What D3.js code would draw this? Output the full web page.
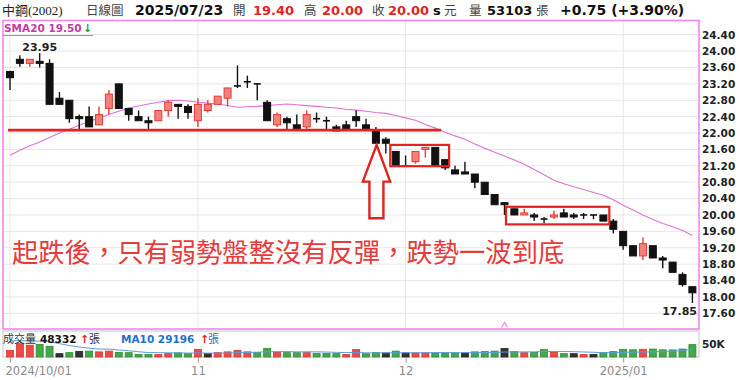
<!DOCTYPE html>
<html lang="zh-Hant"><head><meta charset="utf-8">
<script src="https://cdn.jsdelivr.net/npm/d3@7"></script>
<style>
html,body{margin:0;padding:0;background:#fff;}
svg{display:block;}
</style></head><body>
<svg id="chart" width="740" height="380"></svg>
<script>
// ---- daily bars, 中鋼 (2002) ----
const dates = [
  "2024/10/01","2024/10/04","2024/10/07","2024/10/08","2024/10/09","2024/10/11","2024/10/14","2024/10/15","2024/10/16","2024/10/17",
  "2024/10/18","2024/10/21","2024/10/22","2024/10/23","2024/10/24","2024/10/25","2024/10/28","2024/10/29","2024/10/30",
  "2024/11/01","2024/11/04","2024/11/05","2024/11/06","2024/11/07","2024/11/08","2024/11/11","2024/11/12","2024/11/13","2024/11/14",
  "2024/11/15","2024/11/18","2024/11/19","2024/11/20","2024/11/21","2024/11/22","2024/11/25","2024/11/26","2024/11/27","2024/11/28","2024/11/29",
  "2024/12/02","2024/12/03","2024/12/04","2024/12/05","2024/12/06","2024/12/09","2024/12/10","2024/12/11","2024/12/12","2024/12/13",
  "2024/12/16","2024/12/17","2024/12/18","2024/12/19","2024/12/20","2024/12/23","2024/12/24","2024/12/25","2024/12/26","2024/12/27",
  "2024/12/30","2024/12/31",
  "2025/01/02","2025/01/03","2025/01/06","2025/01/07","2025/01/08","2025/01/09","2025/01/10","2025/01/13"
];
const opens = [23.50,23.80,23.70,23.75,23.70,22.85,22.80,22.40,22.40,22.20,
  22.60,23.20,22.60,22.40,22.30,22.30,22.55,22.70,22.65,
  22.30,22.55,22.70,22.85,23.15,23.25,23.20,22.75,22.20,22.35,
  22.20,22.15,22.35,22.30,22.15,22.20,22.40,22.20,22.05,21.85,21.55,
  21.20,21.30,21.60,21.65,21.35,21.10,21.05,21.00,20.80,20.50,
  20.30,20.15,20.00,20.00,19.90,19.95,20.05,20.00,20.00,20.00,
  20.00,19.85,
  19.60,19.25,19.00,19.25,18.95,18.85,18.55,18.25];
const highs = [23.52,23.90,23.80,23.95,23.80,23.00,22.80,22.45,22.65,22.65,
  23.05,23.20,22.60,22.55,22.40,22.55,22.80,22.70,22.70,
  22.85,22.80,22.90,23.10,23.65,23.40,23.20,22.80,22.50,22.40,
  22.45,22.55,22.50,22.40,22.20,22.30,22.55,22.35,22.15,21.90,21.55,
  21.45,21.55,21.65,21.65,21.35,21.20,21.30,21.00,20.80,20.50,
  20.30,20.15,20.15,20.05,19.95,20.10,20.15,20.05,20.05,20.00,
  20.00,19.90,
  19.60,19.25,19.45,19.25,19.00,18.85,18.60,18.25];
const lows = [23.05,23.62,23.62,23.60,22.70,22.70,22.25,22.10,22.15,22.20,
  22.45,22.60,22.30,22.30,22.10,22.30,22.40,22.35,22.35,
  22.15,22.50,22.70,22.65,23.10,23.10,22.80,22.30,22.15,22.10,
  22.10,22.10,22.25,22.10,22.05,22.10,22.15,22.10,21.75,21.50,21.20,
  21.20,21.25,21.40,21.20,21.10,21.00,21.00,20.65,20.50,20.25,
  20.00,20.00,20.00,19.85,19.80,19.90,19.95,19.90,19.90,19.90,
  19.85,19.55,
  19.15,19.00,18.90,18.95,18.70,18.60,18.25,17.85];
const closes = [23.35,23.70,23.80,23.70,22.70,22.70,22.35,22.35,22.15,22.45,
  22.95,22.60,22.45,22.30,22.25,22.55,22.75,22.65,22.50,
  22.70,22.70,22.90,23.10,23.15,23.25,23.20,22.30,22.45,22.25,
  22.10,22.45,22.35,22.30,22.05,22.10,22.30,22.10,21.75,21.75,21.20,
  21.20,21.55,21.65,21.20,21.15,21.00,21.00,20.80,20.50,20.25,
  20.25,20.00,20.05,19.95,19.90,20.00,19.95,19.95,20.00,20.00,
  19.85,19.65,
  19.25,19.00,19.30,18.95,18.90,18.60,18.30,18.10];
const priorClose = 23.00;
// volume in 張
const volumes = [26000,52000,46000,49000,42000,13000,17000,22000,23000,20000,
  23000,18000,17000,10000,10000,10000,13000,16000,14000,
  30000,13000,17000,20000,26000,20000,18000,33000,18000,17000,
  17000,17000,14000,14000,13000,10000,29000,13000,17000,16000,23000,
  16000,16000,16000,16000,16000,16000,16000,20000,21000,23000,
  33000,21000,17000,18000,29000,20000,13000,13000,10000,10000,
  17000,21000,
  30000,28000,30000,31000,28000,27628,31000,48332];
// the nine sessions before 10/01, used to seed the 10-day volume average
const priorVolumes = [45000,52000,60000,68000,85000,90000,78000,70000,56000];
// 20-day simple moving average of the close
const sma20 = [21.46,21.58,21.69,21.78,21.89,22.00,22.09,22.19,22.28,22.37,
  22.45,22.53,22.61,22.66,22.71,22.75,22.79,22.80,22.78,
  22.75,22.73,22.71,22.67,22.63,22.64,22.65,22.67,22.69,22.71,
  22.69,22.67,22.65,22.63,22.61,22.58,22.56,22.53,22.50,22.48,22.43,
  22.37,22.31,22.21,22.12,22.02,21.93,21.85,21.73,21.63,21.53,
  21.44,21.34,21.24,21.11,20.98,20.85,20.76,20.69,20.62,20.55,
  20.48,20.37,
  20.24,20.12,20.00,19.89,19.79,19.71,19.62,19.50];
const priceTicks = [24.40,24.00,23.60,23.20,22.80,22.40,22.00,21.60,21.20,20.80,20.40,20.00,19.60,19.20,18.80,18.40,18.00,17.60];
const monthTicks = ["2024/10/01","2024/11/01","2024/12/02","2025/01/02"];
const monthLabels = ["2024/10/01","11","12","2025/01"];
const volTicks = [50000];
const supportLevel = 22.07;
const note = "起跌後，只有弱勢盤整沒有反彈，跌勢一波到底";

// ---- scales ----
const svg = d3.select("#chart");
const x = d3.scalePoint().domain(dates).range([10, 692.4]);
const xi = i => x(dates[0]) + i * x.step();
const y = d3.scaleLinear().domain([17.60, 24.40]).range([313.3, 34.7]);
const yv = d3.scaleLinear().domain([0, 100000]).range([357, 331.4]);

const RED = "#e2231f", UP_FILL = "#f4807b", UP_LINE = "#e33c36", DOWN = "#111";
const PINK = "#ee88ee";
const bars = dates.map((d, i) => ({
  d, i, o: opens[i], h: highs[i], l: lows[i], c: closes[i], v: volumes[i],
  pc: i ? closes[i - 1] : priorClose
}));

// ---- price panel grid ----
const grid = svg.append("g");
grid.selectAll("line.h").data(priceTicks).join("line")
  .attr("x1", 3).attr("x2", 699).attr("y1", d => y(d)).attr("y2", d => y(d))
  .attr("stroke", "#e6e6e6").attr("stroke-width", 1);
grid.selectAll("line.v").data(monthTicks).join("line")
  .attr("x1", d => x(d)).attr("x2", d => x(d)).attr("y1", 21).attr("y2", 329)
  .attr("stroke", "#e6e6e6").attr("stroke-width", 1);

// ---- SMA20 ----
svg.append("path").datum(sma20)
  .attr("d", d3.line().x((d, i) => x(dates[i])).y(d => y(d)))
  .attr("fill", "none").attr("stroke", "#e070d2").attr("stroke-width", 1.1);

// ---- candles ----
const cg = svg.append("g");
const isUp = b => b.c > b.o;
cg.selectAll("line.wick").data(bars).join("line")
  .attr("x1", b => x(b.d)).attr("x2", b => x(b.d))
  .attr("y1", b => y(b.h)).attr("y2", b => y(b.l))
  .attr("stroke", b => isUp(b) ? UP_LINE : DOWN).attr("stroke-width", 1.4);
cg.selectAll("rect.body").data(bars).join("rect")
  .attr("x", b => x(b.d) - 3.5).attr("width", 7)
  .attr("y", b => b.o === b.c ? y(b.o) - 0.8 : y(Math.max(b.o, b.c)))
  .attr("height", b => b.o === b.c ? 1.6 : Math.max(1.6, Math.abs(y(b.o) - y(b.c))))
  .attr("fill", b => isUp(b) ? UP_FILL : DOWN)
  .attr("stroke", b => isUp(b) ? UP_LINE : DOWN).attr("stroke-width", b => b.o === b.c ? 0 : 1);

// extremes
const hi = d3.maxIndex(bars, b => b.h), lo = d3.minIndex(bars, b => b.l);
svg.append("text").attr("x", x(dates[hi])).attr("y", y(bars[hi].h) - 2.5)
  .attr("text-anchor", "middle").style("font", "bold 11px 'DejaVu Sans'").attr("fill", "#222")
  .text(bars[hi].h.toFixed(2));
svg.append("text").attr("x", 697).attr("y", y(bars[lo].l) + 12)
  .attr("text-anchor", "end").style("font", "bold 11px 'DejaVu Sans'").attr("fill", "#222")
  .text(bars[lo].l.toFixed(2));

// ---- annotations ----
const ann = svg.append("g").attr("fill", "none").attr("stroke", RED);
ann.append("line").attr("x1", xi(-0.2)).attr("x2", xi(43.6))
  .attr("y1", y(supportLevel)).attr("y2", y(supportLevel)).attr("stroke-width", 2.6);
ann.append("rect").attr("x", xi(38.45)).attr("y", y(21.71))
  .attr("width", xi(44.4) - xi(38.45)).attr("height", y(21.19) - y(21.71)).attr("stroke-width", 2.2);
ann.append("rect").attr("x", xi(50.15)).attr("y", y(20.20))
  .attr("width", xi(60.6) - xi(50.15)).attr("height", y(19.77) - y(20.20)).attr("stroke-width", 2.2);
const ax = xi(37.07), ay = y(21.71);
ann.append("path").attr("stroke-width", 2.4).attr("stroke-linejoin", "miter")
  .attr("d", `M${ax},${ay} L${ax + 13.6},${ay + 36.7} L${ax + 6.8},${ay + 36.7} L${ax + 6.8},${ay + 73.3}
    L${ax - 7.2},${ay + 73.3} L${ax - 7.2},${ay + 36.7} L${ax - 13.8},${ay + 36.7} Z`);
svg.append("text").attr("x", 12).attr("y", 262)
  .style("font", "26.3px 'Noto Sans CJK TC'").attr("fill", "#e53b3b").text(note);

// small marker at the panel foot
const mx = xi(50);
svg.append("path").attr("d", `M${mx - 3},327.5 L${mx},322.5 L${mx + 3},327.5`)
  .attr("fill", "none").attr("stroke", PINK).attr("stroke-width", 1.2);

// ---- price panel frame + axis ----
svg.append("rect").attr("x", 3).attr("y", 20.5).attr("width", 696).attr("height", 308.5)
  .attr("fill", "none").attr("stroke", PINK).attr("stroke-width", 1.6);
const gy = svg.append("g").attr("transform", "translate(699,0)")
  .call(d3.axisRight(y).tickValues(priceTicks).tickFormat(d3.format(".2f")).tickSize(0).tickPadding(3));
gy.select(".domain").remove();
gy.selectAll("text").style("font", "bold 10.5px 'DejaVu Sans'").attr("fill", "#222");

// SMA label
svg.append("line").attr("x1", 3).attr("x2", 93).attr("y1", 35.5).attr("y2", 35.5)
  .attr("stroke", "#999").attr("stroke-width", 1);
svg.append("text").attr("x", 4).attr("y", 32).style("font", "bold 10.5px 'DejaVu Sans'")
  .attr("fill", "#c63aa2").text("SMA20 " + sma20[sma20.length - 1].toFixed(2));
svg.append("text").attr("x", 83).attr("y", 32).style("font", "bold 11px 'DejaVu Sans'")
  .attr("fill", "#1e9a2a").text("↓");

// ---- volume panel ----
svg.append("rect").attr("x", 3).attr("y", 331).attr("width", 696).attr("height", 26)
  .attr("fill", "none").attr("stroke", "#c4c4c4").attr("stroke-width", 1);
const volColor = b => b.c > b.pc ? ["#ec4a44", "#d23a35"] : b.c < b.pc ? ["#43a84a", "#2f8c36"] : ["#333", "#222"];
svg.append("g").selectAll("rect").data(bars).join("rect")
  .attr("x", b => x(b.d) - 3.5).attr("width", 7)
  .attr("y", b => yv(b.v)).attr("height", b => yv(0) - yv(b.v))
  .attr("fill", b => volColor(b)[0]).attr("stroke", b => volColor(b)[1]).attr("stroke-width", 0.8);
const allVol = priorVolumes.concat(volumes);
const volMA = volumes.map((v, i) => d3.mean(allVol.slice(i, i + 10)));
svg.append("path").datum(volMA)
  .attr("d", d3.line().x((d, i) => x(dates[i])).y(d => yv(d)))
  .attr("fill", "none").attr("stroke", "#5a9ee0").attr("stroke-width", 1);
const gv = svg.append("g").attr("transform", "translate(699,0)")
  .call(d3.axisRight(yv).tickValues(volTicks).tickFormat(d => d / 1000 + "K").tickSize(0).tickPadding(3));
gv.select(".domain").remove();
gv.selectAll("text").style("font", "bold 10.5px 'DejaVu Sans'").attr("fill", "#222");

// volume labels
const vl = svg.append("g");
vl.append("text").attr("x", 3).attr("y", 342.5).style("font", "11px 'Noto Sans CJK TC'").attr("fill", "#333").text("成交量");
vl.append("text").attr("x", 40).attr("y", 342.5).style("font", "bold 10.5px 'DejaVu Sans'").attr("fill", "#111")
  .text(volumes[volumes.length - 1]);
vl.append("text").attr("x", 80).attr("y", 342.5).style("font", "bold 11px 'DejaVu Sans'").attr("fill", RED).text("↑");
vl.append("text").attr("x", 89).attr("y", 342.5).style("font", "11px 'Noto Sans CJK TC'").attr("fill", "#333").text("張");
vl.append("text").attr("x", 121).attr("y", 342.5).style("font", "bold 10.5px 'DejaVu Sans'").attr("fill", "#1f72c6")
  .text("MA10 " + Math.round(volMA[volMA.length - 1]));
vl.append("text").attr("x", 200).attr("y", 342.5).style("font", "bold 11px 'DejaVu Sans'").attr("fill", RED).text("↑");
vl.append("text").attr("x", 208).attr("y", 342.5).style("font", "11px 'Noto Sans CJK TC'").attr("fill", "#1f72c6").text("張");

// ---- date axis ----
const gx = svg.append("g").attr("transform", "translate(0,357.5)")
  .call(d3.axisBottom(x).tickValues(monthTicks).tickFormat((d, i) => monthLabels[i]).tickSize(5).tickPadding(4));
gx.select(".domain").remove();
gx.selectAll("line").attr("stroke", "#999");
gx.selectAll("text").style("font", "11.5px 'DejaVu Sans'").attr("fill", "#8a8a8a");
gx.select(".tick text").attr("text-anchor", "start").attr("x", -5);

// ---- header ----
const hd = svg.append("g");
const put = (xp, txt, font, fill) => hd.append("text").attr("x", xp).attr("y", 15).style("font", font).attr("fill", fill).text(txt);
const cjk = "12.5px 'Liberation Serif','Noto Sans CJK TC'";
const num = "bold 13px 'DejaVu Sans'";
put(2, "中鋼(2002)", "13px 'Liberation Serif','Noto Sans CJK TC'", "#222");
put(86, "日線圖", cjk, "#444");
put(135, "2025/07/23", "bold 14px 'DejaVu Sans'", "#111");
put(233, "開", cjk, "#444");
put(253, "19.40", num, RED);
put(304, "高", cjk, "#444");
put(322, "20.00", num, RED);
put(372, "收", cjk, "#444");
put(388, "20.00", num, RED);
put(433, "s", num, "#111");
put(444, "元", cjk, "#444");
put(469, "量", cjk, "#444");
put(487, "53103", num, "#111");
put(536, "張", cjk, "#444");
put(560, "+0.75 (+3.90%)", "bold 14px 'DejaVu Sans'", "#111");
</script>
</body></html>
